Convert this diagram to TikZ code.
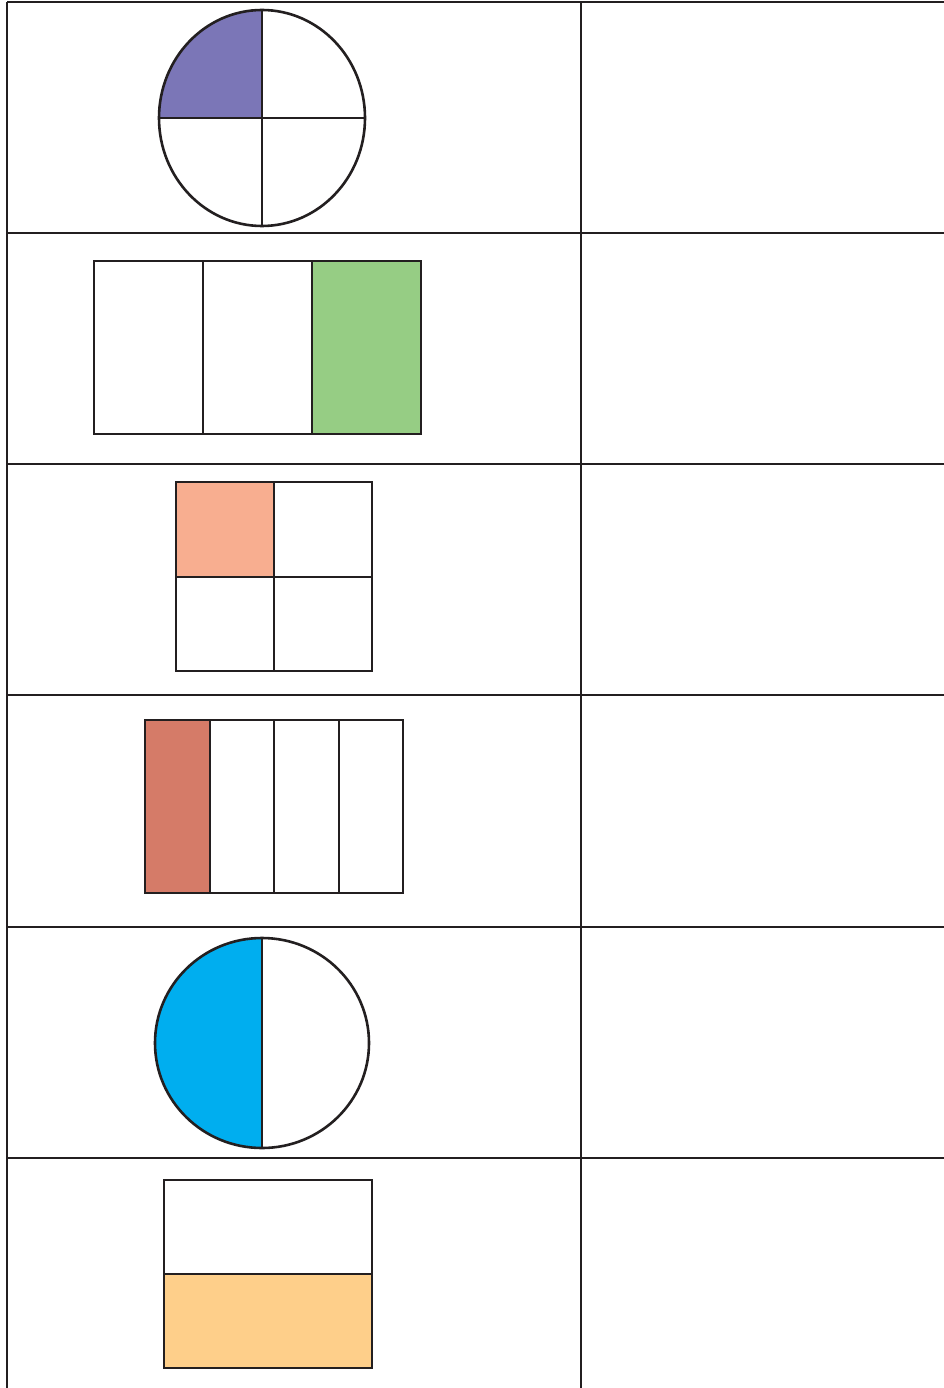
\documentclass[tikz,border=0pt]{standalone}
\definecolor{quarterpurple}{HTML}{7B76B7}
\definecolor{thirdgreen}{HTML}{96CD84}
\definecolor{quartersalmon}{HTML}{F8AE90}
\definecolor{quarterbrick}{HTML}{D57B68}
\definecolor{halfblue}{HTML}{00AEEF}
\definecolor{halforange}{HTML}{FECF8A}
\definecolor{inkline}{HTML}{231F20}
\tikzset{
  gridline/.style={draw=inkline, line width=2.8pt},
  shapeline/.style={draw=inkline, line width=2.6pt},
  thinline/.style={draw=inkline, line width=1.2pt}
}
\begin{document}
\begin{tikzpicture}[x=1pt,y=-1pt]
    \useasboundingbox (0,0) rectangle (944,1388);
    \clip (0,0) rectangle (944,1388);
    \fill[white] (0,0) rectangle (944,1388);

    % Table lines
    \foreach \y in {2,233,464,695,927,1158}
        \draw[gridline] (7,\y) -- (950,\y);
    \draw[gridline] (7,2) -- (7,1395);
    \draw[gridline] (581,2) -- (581,1395);

    % Row 1: circle in quarters, one shaded
    \fill[quarterpurple] (262,118) -- (159,118) arc[start angle=180, end angle=270, x radius=103, y radius=108] -- cycle;
    \draw[shapeline] (262,118) ellipse [x radius=103, y radius=108];
    \draw[shapeline] (159,118) -- (365,118);
    \draw[shapeline] (262,10) -- (262,226);

    % Row 2: rectangle in thirds, last shaded
    \fill[thirdgreen] (312,261) rectangle (421,434);
    \draw[shapeline] (94,261) rectangle (421,434);
    \draw[shapeline] (203,261) -- (203,434);
    \draw[shapeline] (312,261) -- (312,434);

    % Row 3: square in quarters, top left shaded
    \fill[quartersalmon] (176,482) rectangle (274,577);
    \draw[shapeline] (176,482) rectangle (372,671);
    \draw[shapeline] (274,482) -- (274,671);
    \draw[shapeline] (176,577) -- (372,577);

    % Row 4: strip in quarters, first shaded
    \fill[quarterbrick] (145,720) rectangle (210,893);
    \draw[thinline] (145,720) rectangle (403,893);
    \foreach \x in {210,274,339}
        \draw[thinline] (\x,720) -- (\x,893);

    % Row 5: circle in halves, left shaded
    \fill[halfblue] (262,938) arc[start angle=270, end angle=90, x radius=107, y radius=105] -- cycle;
    \draw[shapeline] (262,1043) ellipse [x radius=107, y radius=105];
    \draw[shapeline] (262,938) -- (262,1148);

    % Row 6: rectangle in halves, bottom shaded
    \fill[halforange] (164,1274) rectangle (372,1368);
    \draw[shapeline] (164,1180) rectangle (372,1368);
    \draw[shapeline] (164,1274) -- (372,1274);
\end{tikzpicture}
\end{document}
